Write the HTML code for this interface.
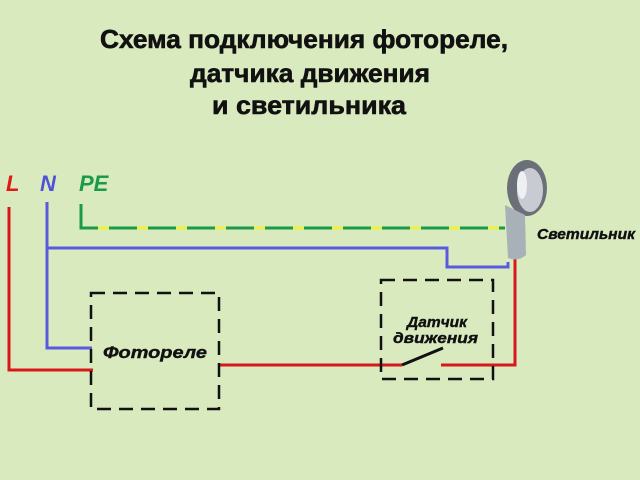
<!DOCTYPE html>
<html><head><meta charset="utf-8"><style>
html,body{margin:0;padding:0;background:#d9eabf;}
svg{display:block}
</style></head><body>
<svg width="640" height="480" viewBox="0 0 640 480" xmlns="http://www.w3.org/2000/svg">
<rect width="640" height="480" fill="#d9eabf"/>
<g font-family="Liberation Sans, Noto Sans CJK SC, sans-serif" font-weight="bold" font-size="26" fill="#111" stroke="#111" stroke-width="0.6">
<text x="100" y="48" textLength="408" lengthAdjust="spacingAndGlyphs">Схема подключения фотореле,</text>
<text x="190" y="82" textLength="240" lengthAdjust="spacingAndGlyphs">датчика движения</text>
<text x="212" y="114" textLength="194" lengthAdjust="spacingAndGlyphs">и светильника</text>
</g>
<g font-family="Liberation Sans, sans-serif" font-weight="bold" font-style="italic" font-size="22">
<text x="6" y="191" fill="#e01818">L</text>
<text x="40" y="191" fill="#5050d8">N</text>
<text x="79" y="191" fill="#1a9a4a">PE</text>
</g>
<!-- PE -->
<polyline points="81,204 81,228 505,228" fill="none" stroke="#1a9a4a" stroke-width="3"/>
<line x1="84" y1="228" x2="505" y2="228" stroke="#f0f040" stroke-width="3" stroke-dasharray="0 14 11 14"/>
<!-- N -->
<polyline points="47,202 47,348 92,348" fill="none" stroke="#5a5ae0" stroke-width="3"/>
<polyline points="47,248 447,248 447,267 508,267 508,262" fill="none" stroke="#5a5ae0" stroke-width="3"/>
<!-- L -->
<polyline points="9,207 9,370 93,370" fill="none" stroke="#d81818" stroke-width="3"/>
<line x1="219" y1="365" x2="402" y2="365" stroke="#d81818" stroke-width="3"/>
<line x1="402" y1="365" x2="443" y2="348" stroke="#111" stroke-width="3"/>
<polyline points="441,365 515,365 515,258" fill="none" stroke="#d81818" stroke-width="3"/>
<!-- boxes -->
<rect x="91" y="293" width="128" height="116" fill="none" stroke="#111" stroke-width="2.5" stroke-dasharray="14 8"/>
<rect x="381" y="280" width="112" height="99" fill="none" stroke="#111" stroke-width="2.5" stroke-dasharray="14 8"/>
<g font-family="Liberation Sans, sans-serif" font-weight="bold" font-style="italic" fill="#111" stroke="#111" stroke-width="0.4">
<text x="103" y="358" font-size="17" textLength="104" lengthAdjust="spacingAndGlyphs">Фотореле</text>
<text x="407" y="327" font-size="15" textLength="60" lengthAdjust="spacingAndGlyphs">Датчик</text>
<text x="393" y="343" font-size="15" textLength="85" lengthAdjust="spacingAndGlyphs">движения</text>
<text x="537" y="239" font-size="15" textLength="98" lengthAdjust="spacingAndGlyphs">Светильник</text>
</g>
<!-- lamp -->
<ellipse cx="527" cy="188" rx="20" ry="28" fill="#6a6f78"/>
<ellipse cx="530" cy="190" rx="13" ry="22" fill="#c8ccd2"/>
<ellipse cx="522" cy="185" rx="5" ry="14" fill="#eef0f4"/>
<path d="M505,205 L525,215 L526,255 Q518,262 508,258 Z" fill="#a8b0b8"/>
</svg>
</body></html>
